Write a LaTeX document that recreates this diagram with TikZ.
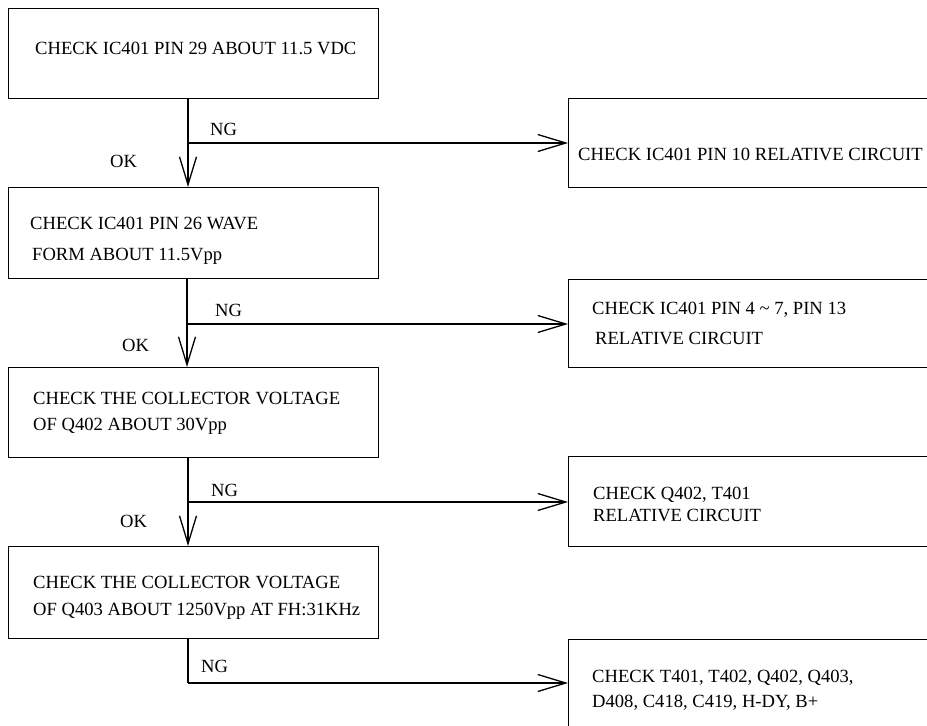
\documentclass[tikz,border=0pt]{standalone}
\usepackage{fontspec}
\setmainfont{Liberation Serif}
\usetikzlibrary{arrows.meta}
\begin{document}
\begin{tikzpicture}[x=1pt,y=-1pt,
  box/.style={draw,line width=1.4pt,rectangle,inner sep=0pt,anchor=north west,minimum width=#1},
  box/.default=370pt,
  txt/.style={anchor=base west,inner sep=0pt,font=\fontsize{18.6}{22}\selectfont},
  lbl/.style={anchor=base west,inner sep=0pt,font=\fontsize{18.6}{22}\selectfont},
  wire/.style={line width=1.3pt},
  arr/.style={wire,-{Straight Barb[length=28pt,width=17pt,line width=1.3pt]}}]
\useasboundingbox (0,0) rectangle (927,726);
\clip (0,0) rectangle (927,726);
\fill[white] (0,0) rectangle (927,726);

% main column of checks
\node[box,minimum height=90pt] (b1) at (8,8) {};
\node[box,minimum height=91pt] (b2) at (8,187) {};
\node[box,minimum height=90pt] (b3) at (8,367) {};
\node[box,minimum height=92pt] (b4) at (8,546) {};

% fault boxes on the right (run past the page edge)
\node[box=400pt,minimum height=89pt] (r1) at (568,98) {};
\node[box=400pt,minimum height=88pt] (r2) at (568,279) {};
\node[box=400pt,minimum height=90pt] (r3) at (568,456) {};
\node[box=400pt,minimum height=88pt] (r4) at (568,639) {};

% box texts
\node[txt] (t1) at (35,54) {CHECK IC401 PIN 29 ABOUT 11.5 VDC};
\node[txt] (t2a) at (30,229) {CHECK IC401 PIN 26 WAVE};
\node[txt] (t2b) at (32,260) {FORM ABOUT 11.5Vpp};
\node[txt] (t3a) at (33,404) {CHECK THE COLLECTOR VOLTAGE};
\node[txt] (t3b) at (33,430) {OF Q402 ABOUT 30Vpp};
\node[txt] (t4a) at (33,588) {CHECK THE COLLECTOR VOLTAGE};
\node[txt] (t4b) at (33,615) {OF Q403 ABOUT 1250Vpp AT FH:31KHz};

\node[txt] (u1) at (578,160) {CHECK IC401 PIN 10 RELATIVE CIRCUIT};
\node[txt] (u2a) at (592,314) {CHECK IC401 PIN 4 \textasciitilde{} 7, PIN 13};
\node[txt] (u2b) at (595,344) {RELATIVE CIRCUIT};
\node[txt] (u3a) at (593,499) {CHECK Q402, T401};
\node[txt] (u3b) at (593,521) {RELATIVE CIRCUIT};
\node[txt] (u4a) at (592,682) {CHECK T401, T402, Q402, Q403,};
\node[txt] (u4b) at (592,707) {D408, C418, C419, H-DY, B+};

% branch points
\coordinate (j1) at (188,143);
\coordinate (j2) at (187,324);
\coordinate (j3) at (188,502);
\coordinate (j4) at (188,683);

% connectors
\draw[wire] (b1.south -| j1) -- (j1);
\draw[arr] (j1) -- (b2.north -| j1);
\draw[arr] (j1) -- (r1.west |- j1);

\draw[wire] (b2.south -| j2) -- (j2);
\draw[arr] (j2) -- (b3.north -| j2);
\draw[arr] (j2) -- (r2.west |- j2);

\draw[wire] (b3.south -| j3) -- (j3);
\draw[arr] (j3) -- (b4.north -| j3);
\draw[arr] (j3) -- (r3.west |- j3);

\draw[wire] (b4.south -| j4) -- (j4);
\draw[arr] (j4) -- (r4.west |- j4);

% branch labels
\node[lbl] (ng1) at (210,135) {NG};
\node[lbl] (ok1) at (110,167) {OK};
\node[lbl] (ng2) at (215,316) {NG};
\node[lbl] (ok2) at (122,351) {OK};
\node[lbl] (ng3) at (211,496) {NG};
\node[lbl] (ok3) at (120,527) {OK};
\node[lbl] (ng4) at (201,672) {NG};
\end{tikzpicture}
\end{document}
